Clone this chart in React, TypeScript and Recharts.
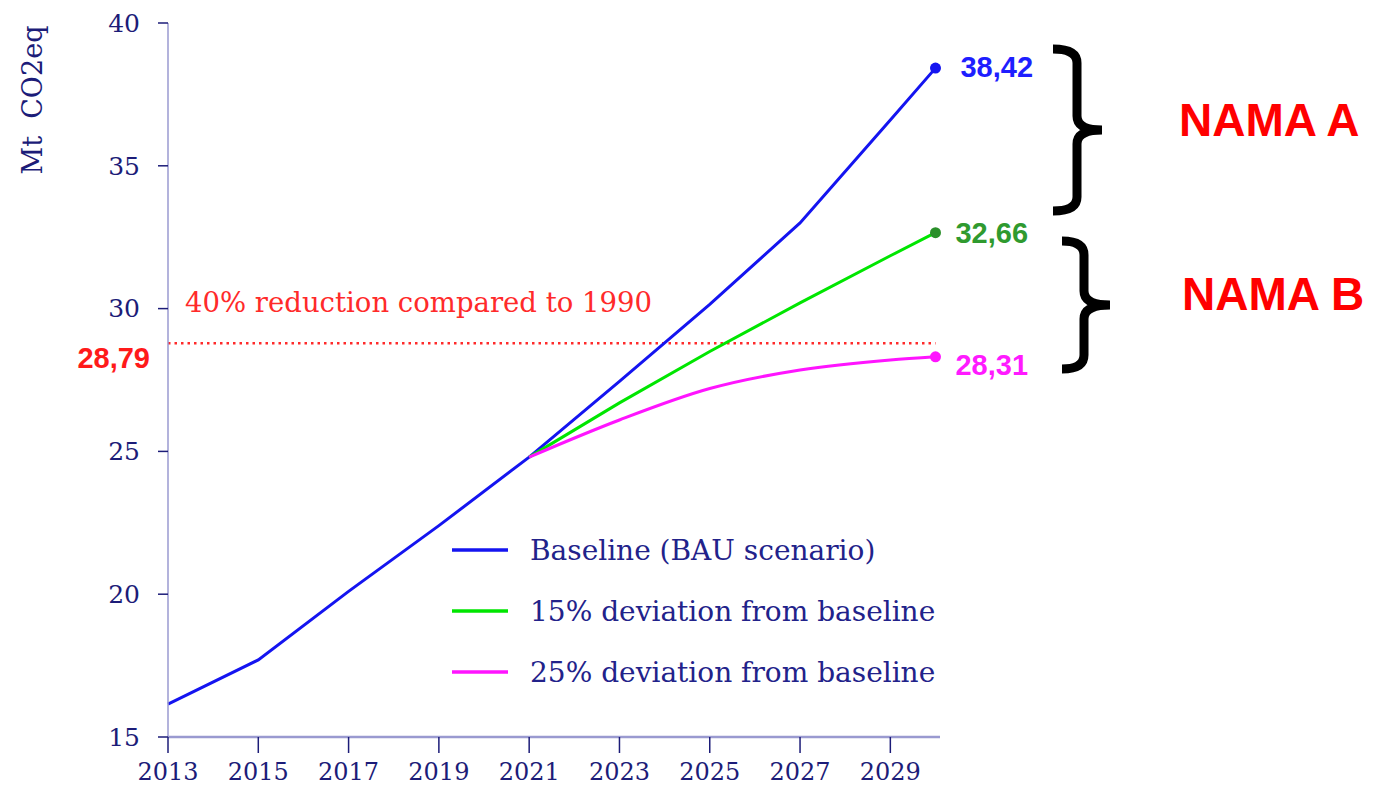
import { LineChart, Line, XAxis, YAxis, ReferenceLine } from 'recharts';

// values
const years = [2013, 2015, 2017, 2019, 2021, 2023, 2025, 2027, 2029, 2030];
const baseline = [16.15, 17.7, 20.1, 22.4, 24.8, 27.45, 30.15, 33.0, 36.6, 38.42];
const dev15 = [null, null, null, null, 24.8, 26.7, 28.5, 30.2, 31.85, 32.66];
const dev25 = [null, null, null, null, 24.8, 26.1, 27.2, 27.85, 28.2, 28.31];
const xTicks = [2013, 2015, 2017, 2019, 2021, 2023, 2025, 2027, 2029];
const yTicks = [15, 20, 25, 30, 35, 40];
const target = 28.79;

const legendItems = [
  { label: 'Baseline (BAU scenario)', color: '#1414f0' },
  { label: '15% deviation from baseline', color: '#00e600' },
  { label: '25% deviation from baseline', color: '#ff14ff' },
];

const data = years.map((year, i) => ({
  year,
  baseline: baseline[i],
  dev15: dev15[i],
  dev25: dev25[i],
}));

const NAVY = '#1c1c78';
const AXIS = '#9a9ad0';
const SERIF = '"DejaVu Serif", serif';
const SANS = '"Liberation Sans", Arial, sans-serif';
const last = years.length - 1;

function endDot(fill) {
  return (props) => {
    const { cx, cy, index } = props;
    if (index !== last) return <g key={`d-${index}`} />;
    return <circle key={`d-${index}`} cx={cx} cy={cy} r={5.5} fill={fill} />;
  };
}

function endLabel(fill, dx, dy) {
  return (props) => {
    const { x, y, index, value } = props;
    if (index !== last) return <g key={`l-${index}`} />;
    return (
      <text
        key={`l-${index}`}
        x={x + dx}
        y={y + dy}
        fill={fill}
        fontFamily={SANS}
        fontWeight="bold"
        fontSize={29}
        dominantBaseline="central"
      >
        {String(value).replace('.', ',')}
      </text>
    );
  };
}

function brace(left, spine, tip, top, mid, bottom) {
  const r = 14;
  return `M ${left} ${top} Q ${spine} ${top} ${spine} ${top + r} L ${spine} ${mid - r} Q ${spine} ${mid} ${tip} ${mid} Q ${spine} ${mid} ${spine} ${mid + r} L ${spine} ${bottom - r} Q ${spine} ${bottom} ${left} ${bottom}`;
}

export default function App() {
  return (
    <div style={{ position: 'absolute', left: 0, top: 0, width: 1375, height: 789, background: '#fff', overflow: 'hidden' }}>
      <LineChart width={1375} height={789} data={data} margin={{ top: 23, right: 435, left: 0, bottom: 0 }}>
        <XAxis
          type="number"
          dataKey="year"
          domain={[2013, 2030.1]}
          ticks={xTicks}
          interval={0}
          height={52}
          tickSize={16}
          tickMargin={10}
          axisLine={{ stroke: AXIS, strokeWidth: 2.5 }}
          tickLine={{ stroke: NAVY, strokeWidth: 1.5 }}
          tick={{ fill: NAVY, fontSize: 24, fontFamily: SERIF }}
        />
        <YAxis
          type="number"
          domain={[15, 40]}
          ticks={yTicks}
          width={168}
          tickSize={10}
          tickMargin={18}
          axisLine={{ stroke: AXIS, strokeWidth: 1.5 }}
          tickLine={{ stroke: NAVY, strokeWidth: 1.5 }}
          tick={{ fill: NAVY, fontSize: 25, fontFamily: SERIF }}
        />
        <ReferenceLine
          segment={[{ x: 2013, y: target }, { x: 2030, y: target }]}
          stroke="#ff2a2a"
          strokeWidth={2.5}
          strokeDasharray="2.5 4"
        />
        <Line
          dataKey="baseline"
          type="linear"
          stroke="#1414f0"
          strokeWidth={3}
          dot={endDot('#1414f0')}
          label={endLabel('#1e1eff', 25, -1)}
          isAnimationActive={false}
        />
        <Line
          dataKey="dev15"
          type="linear"
          stroke="#00e600"
          strokeWidth={3}
          dot={endDot('#2a8f2a')}
          label={endLabel('#2f9a2f', 20, 0)}
          isAnimationActive={false}
        />
        <Line
          dataKey="dev25"
          type="monotone"
          stroke="#ff14ff"
          strokeWidth={3}
          dot={endDot('#ff14ff')}
          label={endLabel('#ff1aff', 20, 8)}
          isAnimationActive={false}
        />
      </LineChart>

      <svg width={1375} height={789} style={{ position: 'absolute', left: 0, top: 0, pointerEvents: 'none' }}>
        <text
          transform="translate(32 100) rotate(-90)"
          textAnchor="middle"
          dominantBaseline="central"
          fill={NAVY}
          fontFamily={SERIF}
          fontSize={27}
          xmlSpace="preserve"
        >
          Mt  CO2eq
        </text>
        <text x={185} y={312} fill="#ff2a2a" fontFamily={SERIF} fontSize={27.5}>
          40% reduction compared to 1990
        </text>
        <text x={150} y={358} textAnchor="end" dominantBaseline="central" fill="#ff1a1a" fontFamily={SANS} fontWeight="bold" fontSize={29}>
          28,79
        </text>

        {legendItems.map((item, i) => (
          <g key={item.label}>
            <line x1={452} x2={508} y1={550 + i * 61} y2={550 + i * 61} stroke={item.color} strokeWidth={3.5} />
            <text x={530} y={550 + i * 61} dominantBaseline="central" fill="#22228a" fontFamily={SERIF} fontSize={28}>
              {item.label}
            </text>
          </g>
        ))}

        <path d={brace(1053, 1077, 1102, 49, 130, 211)} fill="none" stroke="#000" strokeWidth={9} />
        <path d={brace(1062, 1084, 1110, 241, 305, 369)} fill="none" stroke="#000" strokeWidth={9} />
        <text x={1179} y={120} dominantBaseline="central" fill="#ff0000" fontFamily={SANS} fontWeight="bold" fontSize={46}>
          NAMA A
        </text>
        <text x={1182} y={294} dominantBaseline="central" fill="#ff0000" fontFamily={SANS} fontWeight="bold" fontSize={46}>
          NAMA B
        </text>
      </svg>
    </div>
  );
}
